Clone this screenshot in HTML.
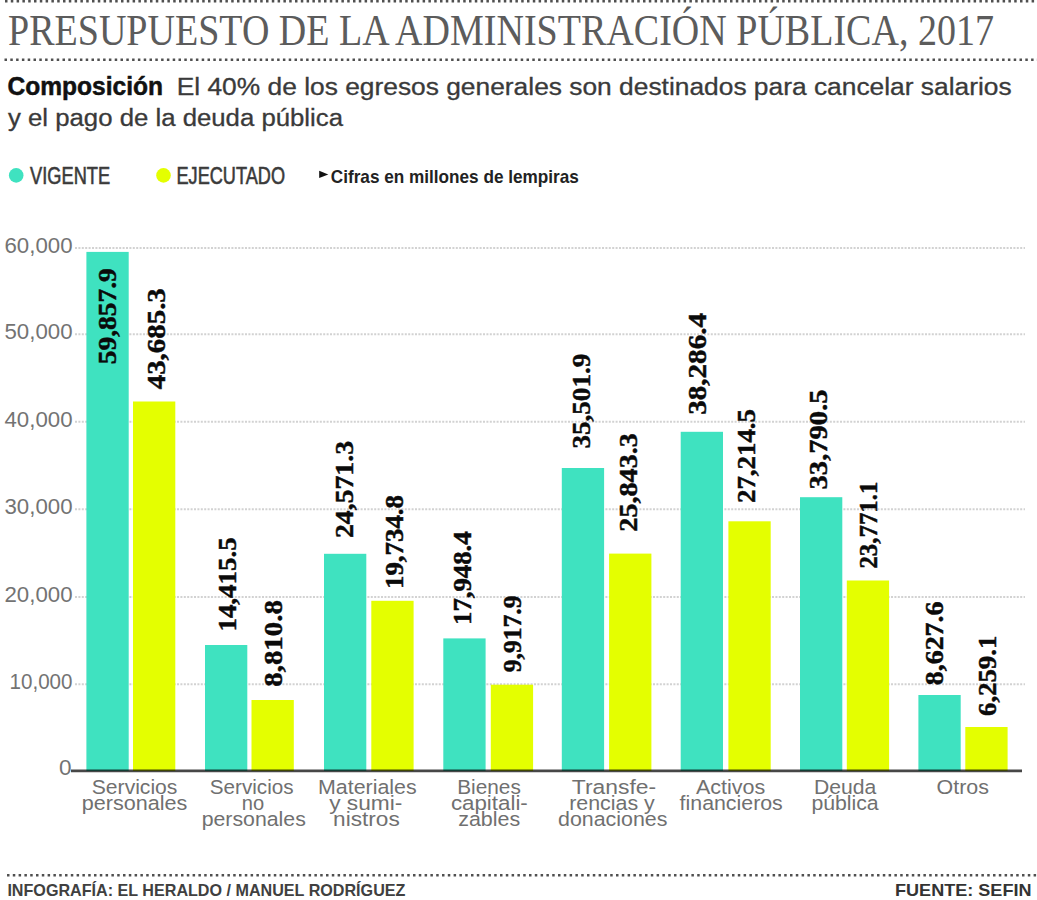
<!DOCTYPE html>
<html lang="es"><head><meta charset="utf-8"><title>Presupuesto de la Administración Pública, 2017</title>
<style>html,body{margin:0;padding:0;background:#fff;}body{width:1037px;height:900px;overflow:hidden}svg{display:block}</style>
</head><body>
<svg width="1037" height="900" viewBox="0 0 1037 900">
<rect width="1037" height="900" fill="#fff"/>
<line x1="5" y1="1.2" x2="1037" y2="1.2" stroke="#505050" stroke-width="2.5" stroke-dasharray="2.5 3.3"/>
<text transform="translate(8,45.2) scale(1,1.1)" x="0" y="0" font-family="'Liberation Serif', serif" font-size="40" fill="#5c5c5c" textLength="986" lengthAdjust="spacingAndGlyphs">PRESUPUESTO DE LA ADMINISTRACIÓN PÚBLICA, 2017</text>
<line x1="4.5" y1="59.8" x2="1037" y2="59.8" stroke="#505050" stroke-width="2.5" stroke-dasharray="2.5 3.3"/>
<text x="7.5" y="95.2" font-family="'Liberation Sans', sans-serif" font-size="25" font-weight="bold" fill="#111" text-anchor="start" textLength="155.5" lengthAdjust="spacingAndGlyphs" stroke="#111" stroke-width="0.5">Composición</text>
<text x="176.7" y="95.2" font-family="'Liberation Sans', sans-serif" font-size="23" font-weight="normal" fill="#3a3a3a" text-anchor="start" textLength="835" lengthAdjust="spacingAndGlyphs" stroke="#3a3a3a" stroke-width="0.3">El 40% de los egresos generales son destinados para cancelar salarios</text>
<text x="8" y="126.3" font-family="'Liberation Sans', sans-serif" font-size="23" font-weight="normal" fill="#3a3a3a" text-anchor="start" textLength="335" lengthAdjust="spacingAndGlyphs" stroke="#3a3a3a" stroke-width="0.3">y el pago de la deuda pública</text>
<circle cx="16.2" cy="175.4" r="7.3" fill="#3fe2c0"/>
<text x="30.1" y="183.7" font-family="'Liberation Sans', sans-serif" font-size="23.5" font-weight="normal" fill="#3a3a3a" text-anchor="start" textLength="80" lengthAdjust="spacingAndGlyphs" stroke="#3a3a3a" stroke-width="0.6">VIGENTE</text>
<circle cx="163.5" cy="175.4" r="7.3" fill="#e4ff00"/>
<text x="176.5" y="183.7" font-family="'Liberation Sans', sans-serif" font-size="23.5" font-weight="normal" fill="#3a3a3a" text-anchor="start" textLength="108.5" lengthAdjust="spacingAndGlyphs" stroke="#3a3a3a" stroke-width="0.6">EJECUTADO</text>
<polygon points="319.2,170.7 328.3,174.4 319.2,178.1" fill="#111"/>
<text x="330.8" y="182.8" font-family="'Liberation Sans', sans-serif" font-size="18.5" font-weight="bold" fill="#222" text-anchor="start" textLength="248" lengthAdjust="spacingAndGlyphs">Cifras en millones de lempiras</text>
<line x1="75" y1="247.9" x2="1025" y2="247.9" stroke="#d2d2d2" stroke-width="2" stroke-dasharray="2 1.4"/>
<text x="72.5" y="252.70000000000002" font-family="'Liberation Sans', sans-serif" font-size="22.5" font-weight="normal" fill="#737373" text-anchor="end" textLength="68" lengthAdjust="spacingAndGlyphs">60,000</text>
<line x1="75" y1="334.3" x2="1025" y2="334.3" stroke="#d2d2d2" stroke-width="2" stroke-dasharray="2 1.4"/>
<text x="72.5" y="339.1" font-family="'Liberation Sans', sans-serif" font-size="22.5" font-weight="normal" fill="#737373" text-anchor="end" textLength="68" lengthAdjust="spacingAndGlyphs">50,000</text>
<line x1="75" y1="421.7" x2="1025" y2="421.7" stroke="#d2d2d2" stroke-width="2" stroke-dasharray="2 1.4"/>
<text x="72.5" y="426.5" font-family="'Liberation Sans', sans-serif" font-size="22.5" font-weight="normal" fill="#737373" text-anchor="end" textLength="68" lengthAdjust="spacingAndGlyphs">40,000</text>
<line x1="75" y1="509.3" x2="1025" y2="509.3" stroke="#d2d2d2" stroke-width="2" stroke-dasharray="2 1.4"/>
<text x="72.5" y="514.1" font-family="'Liberation Sans', sans-serif" font-size="22.5" font-weight="normal" fill="#737373" text-anchor="end" textLength="68" lengthAdjust="spacingAndGlyphs">30,000</text>
<line x1="75" y1="596.9" x2="1025" y2="596.9" stroke="#d2d2d2" stroke-width="2" stroke-dasharray="2 1.4"/>
<text x="72.5" y="601.6999999999999" font-family="'Liberation Sans', sans-serif" font-size="22.5" font-weight="normal" fill="#737373" text-anchor="end" textLength="68" lengthAdjust="spacingAndGlyphs">20,000</text>
<line x1="75" y1="684.2" x2="1025" y2="684.2" stroke="#d2d2d2" stroke-width="2" stroke-dasharray="2 1.4"/>
<text x="72.5" y="689.0" font-family="'Liberation Sans', sans-serif" font-size="22.5" font-weight="normal" fill="#737373" text-anchor="end" textLength="63" lengthAdjust="spacingAndGlyphs">10,000</text>
<text x="71.5" y="775.3" font-family="'Liberation Sans', sans-serif" font-size="22.5" font-weight="normal" fill="#737373" text-anchor="end">0</text>
<rect x="86.4" y="251.9" width="42.3" height="519.1" fill="#3fe2c0"/>
<rect x="133" y="401.5" width="42.3" height="369.5" fill="#e4ff00"/>
<rect x="205" y="645" width="42.3" height="126" fill="#3fe2c0"/>
<rect x="251.5" y="700" width="42.3" height="71" fill="#e4ff00"/>
<rect x="324" y="553.8" width="42.3" height="217.20000000000005" fill="#3fe2c0"/>
<rect x="371.3" y="600.8" width="42.3" height="170.20000000000005" fill="#e4ff00"/>
<rect x="443.3" y="638.4" width="42.3" height="132.60000000000002" fill="#3fe2c0"/>
<rect x="490.8" y="684.7" width="42.3" height="86.29999999999995" fill="#e4ff00"/>
<rect x="561.8" y="468" width="42.3" height="303" fill="#3fe2c0"/>
<rect x="609.1" y="553.6" width="42.3" height="217.39999999999998" fill="#e4ff00"/>
<rect x="680.7" y="431.8" width="42.3" height="339.2" fill="#3fe2c0"/>
<rect x="728.4" y="521.3" width="42.3" height="249.70000000000005" fill="#e4ff00"/>
<rect x="800" y="497.2" width="42.3" height="273.8" fill="#3fe2c0"/>
<rect x="846.8" y="580.5" width="42.3" height="190.5" fill="#e4ff00"/>
<rect x="918.4" y="695" width="42.3" height="76" fill="#3fe2c0"/>
<rect x="965.3" y="727" width="42.3" height="44" fill="#e4ff00"/>
<line x1="71" y1="770.9" x2="1022" y2="770.9" stroke="#000" stroke-opacity="0.72" stroke-width="2.6"/>
<text transform="translate(115.8,364.3) rotate(-90)" x="0" y="0" font-family="'Liberation Serif', serif" font-size="24.5" font-weight="bold" fill="#0a0a0a" stroke="#0a0a0a" stroke-width="0.45" textLength="96.1" lengthAdjust="spacingAndGlyphs">59,857.9</text>
<text transform="translate(164.5,389.3) rotate(-90)" x="0" y="0" font-family="'Liberation Serif', serif" font-size="24.5" font-weight="bold" fill="#0a0a0a" stroke="#0a0a0a" stroke-width="0.45" textLength="101.1" lengthAdjust="spacingAndGlyphs">43,685.3</text>
<text transform="translate(235.5,631.6) rotate(-90)" x="0" y="0" font-family="'Liberation Serif', serif" font-size="24.5" font-weight="bold" fill="#0a0a0a" stroke="#0a0a0a" stroke-width="0.45" textLength="94.4" lengthAdjust="spacingAndGlyphs">14,415.5</text>
<text transform="translate(282.0,686.8) rotate(-90)" x="0" y="0" font-family="'Liberation Serif', serif" font-size="24.5" font-weight="bold" fill="#0a0a0a" stroke="#0a0a0a" stroke-width="0.45" textLength="86.8" lengthAdjust="spacingAndGlyphs">8,810.8</text>
<text transform="translate(353.0,538.0) rotate(-90)" x="0" y="0" font-family="'Liberation Serif', serif" font-size="24.5" font-weight="bold" fill="#0a0a0a" stroke="#0a0a0a" stroke-width="0.45" textLength="97.0" lengthAdjust="spacingAndGlyphs">24,571.3</text>
<text transform="translate(403.0,589.0) rotate(-90)" x="0" y="0" font-family="'Liberation Serif', serif" font-size="24.5" font-weight="bold" fill="#0a0a0a" stroke="#0a0a0a" stroke-width="0.45" textLength="94.0" lengthAdjust="spacingAndGlyphs">19,734.8</text>
<text transform="translate(470.5,625.0) rotate(-90)" x="0" y="0" font-family="'Liberation Serif', serif" font-size="24.5" font-weight="bold" fill="#0a0a0a" stroke="#0a0a0a" stroke-width="0.45" textLength="93.7" lengthAdjust="spacingAndGlyphs">17,948.4</text>
<text transform="translate(521.0,672.2) rotate(-90)" x="0" y="0" font-family="'Liberation Serif', serif" font-size="24.5" font-weight="bold" fill="#0a0a0a" stroke="#0a0a0a" stroke-width="0.45" textLength="76.6" lengthAdjust="spacingAndGlyphs">9,917.9</text>
<text transform="translate(590.0,448.6) rotate(-90)" x="0" y="0" font-family="'Liberation Serif', serif" font-size="24.5" font-weight="bold" fill="#0a0a0a" stroke="#0a0a0a" stroke-width="0.45" textLength="94.9" lengthAdjust="spacingAndGlyphs">35,501.9</text>
<text transform="translate(636.5,531.7) rotate(-90)" x="0" y="0" font-family="'Liberation Serif', serif" font-size="24.5" font-weight="bold" fill="#0a0a0a" stroke="#0a0a0a" stroke-width="0.45" textLength="98.6" lengthAdjust="spacingAndGlyphs">25,843.3</text>
<text transform="translate(705.5,414.8) rotate(-90)" x="0" y="0" font-family="'Liberation Serif', serif" font-size="24.5" font-weight="bold" fill="#0a0a0a" stroke="#0a0a0a" stroke-width="0.45" textLength="101.8" lengthAdjust="spacingAndGlyphs">38,286.4</text>
<text transform="translate(755.0,503.0) rotate(-90)" x="0" y="0" font-family="'Liberation Serif', serif" font-size="24.5" font-weight="bold" fill="#0a0a0a" stroke="#0a0a0a" stroke-width="0.45" textLength="94.0" lengthAdjust="spacingAndGlyphs">27,214.5</text>
<text transform="translate(826.5,489.4) rotate(-90)" x="0" y="0" font-family="'Liberation Serif', serif" font-size="24.5" font-weight="bold" fill="#0a0a0a" stroke="#0a0a0a" stroke-width="0.45" textLength="99.9" lengthAdjust="spacingAndGlyphs">33,790.5</text>
<text transform="translate(876.5,568.6) rotate(-90)" x="0" y="0" font-family="'Liberation Serif', serif" font-size="24.5" font-weight="bold" fill="#0a0a0a" stroke="#0a0a0a" stroke-width="0.45" textLength="87.0" lengthAdjust="spacingAndGlyphs">23,771.1</text>
<text transform="translate(943.0,685.2) rotate(-90)" x="0" y="0" font-family="'Liberation Serif', serif" font-size="24.5" font-weight="bold" fill="#0a0a0a" stroke="#0a0a0a" stroke-width="0.45" textLength="83.7" lengthAdjust="spacingAndGlyphs">8,627.6</text>
<text transform="translate(995.5,716.0) rotate(-90)" x="0" y="0" font-family="'Liberation Serif', serif" font-size="24.5" font-weight="bold" fill="#0a0a0a" stroke="#0a0a0a" stroke-width="0.45" textLength="80.3" lengthAdjust="spacingAndGlyphs">6,259.1</text>
<text x="91.8" y="794.0" font-family="'Liberation Sans', sans-serif" font-size="20.5" font-weight="normal" fill="#707070" text-anchor="start" textLength="85.6" lengthAdjust="spacingAndGlyphs">Servicios</text>
<text x="81.8" y="810.2" font-family="'Liberation Sans', sans-serif" font-size="20.5" font-weight="normal" fill="#707070" text-anchor="start" textLength="105.6" lengthAdjust="spacingAndGlyphs">personales</text>
<text x="209.79999999999998" y="794.0" font-family="'Liberation Sans', sans-serif" font-size="20.5" font-weight="normal" fill="#707070" text-anchor="start" textLength="83.8" lengthAdjust="spacingAndGlyphs">Servicios</text>
<text x="241.7" y="810.2" font-family="'Liberation Sans', sans-serif" font-size="20.5" font-weight="normal" fill="#707070" text-anchor="start" textLength="22.4" lengthAdjust="spacingAndGlyphs">no</text>
<text x="201.7" y="826.4" font-family="'Liberation Sans', sans-serif" font-size="20.5" font-weight="normal" fill="#707070" text-anchor="start" textLength="104.1" lengthAdjust="spacingAndGlyphs">personales</text>
<text x="318.0" y="794.0" font-family="'Liberation Sans', sans-serif" font-size="20.5" font-weight="normal" fill="#707070" text-anchor="start" textLength="98.6" lengthAdjust="spacingAndGlyphs">Materiales</text>
<text x="329.2" y="810.2" font-family="'Liberation Sans', sans-serif" font-size="20.5" font-weight="normal" fill="#707070" text-anchor="start" textLength="73.2" lengthAdjust="spacingAndGlyphs">y sumi-</text>
<text x="333.09999999999997" y="826.4" font-family="'Liberation Sans', sans-serif" font-size="20.5" font-weight="normal" fill="#707070" text-anchor="start" textLength="66.7" lengthAdjust="spacingAndGlyphs">nistros</text>
<text x="457.2" y="794.0" font-family="'Liberation Sans', sans-serif" font-size="20.5" font-weight="normal" fill="#707070" text-anchor="start" textLength="63.6" lengthAdjust="spacingAndGlyphs">Bienes</text>
<text x="450.9" y="810.2" font-family="'Liberation Sans', sans-serif" font-size="20.5" font-weight="normal" fill="#707070" text-anchor="start" textLength="76.9" lengthAdjust="spacingAndGlyphs">capitali-</text>
<text x="458.2" y="826.4" font-family="'Liberation Sans', sans-serif" font-size="20.5" font-weight="normal" fill="#707070" text-anchor="start" textLength="62.0" lengthAdjust="spacingAndGlyphs">zables</text>
<text x="571.8000000000001" y="794.0" font-family="'Liberation Sans', sans-serif" font-size="20.5" font-weight="normal" fill="#707070" text-anchor="start" textLength="84.3" lengthAdjust="spacingAndGlyphs">Transfe-</text>
<text x="569.2" y="810.2" font-family="'Liberation Sans', sans-serif" font-size="20.5" font-weight="normal" fill="#707070" text-anchor="start" textLength="85.6" lengthAdjust="spacingAndGlyphs">rencias y</text>
<text x="558.0" y="826.4" font-family="'Liberation Sans', sans-serif" font-size="20.5" font-weight="normal" fill="#707070" text-anchor="start" textLength="109.4" lengthAdjust="spacingAndGlyphs">donaciones</text>
<text x="695.9000000000001" y="794.0" font-family="'Liberation Sans', sans-serif" font-size="20.5" font-weight="normal" fill="#707070" text-anchor="start" textLength="69.3" lengthAdjust="spacingAndGlyphs">Activos</text>
<text x="679.6" y="810.2" font-family="'Liberation Sans', sans-serif" font-size="20.5" font-weight="normal" fill="#707070" text-anchor="start" textLength="103.2" lengthAdjust="spacingAndGlyphs">financieros</text>
<text x="813.9000000000001" y="794.0" font-family="'Liberation Sans', sans-serif" font-size="20.5" font-weight="normal" fill="#707070" text-anchor="start" textLength="62.3" lengthAdjust="spacingAndGlyphs">Deuda</text>
<text x="811.4000000000001" y="810.2" font-family="'Liberation Sans', sans-serif" font-size="20.5" font-weight="normal" fill="#707070" text-anchor="start" textLength="67.3" lengthAdjust="spacingAndGlyphs">pública</text>
<text x="936.6" y="794.0" font-family="'Liberation Sans', sans-serif" font-size="20.5" font-weight="normal" fill="#707070" text-anchor="start" textLength="52.4" lengthAdjust="spacingAndGlyphs">Otros</text>
<line x1="7" y1="875.2" x2="1037" y2="875.2" stroke="#505050" stroke-width="2.5" stroke-dasharray="2.5 3.3"/>
<text x="7.4" y="896.2" font-family="'Liberation Sans', sans-serif" font-size="16.5" font-weight="bold" fill="#404040" text-anchor="start" textLength="398" lengthAdjust="spacingAndGlyphs">INFOGRAFÍA: EL HERALDO / MANUEL RODRÍGUEZ</text>
<text x="895" y="896.2" font-family="'Liberation Sans', sans-serif" font-size="16.5" font-weight="bold" fill="#333" text-anchor="start" textLength="136.5" lengthAdjust="spacingAndGlyphs">FUENTE: SEFIN</text>
</svg>
</body></html>
